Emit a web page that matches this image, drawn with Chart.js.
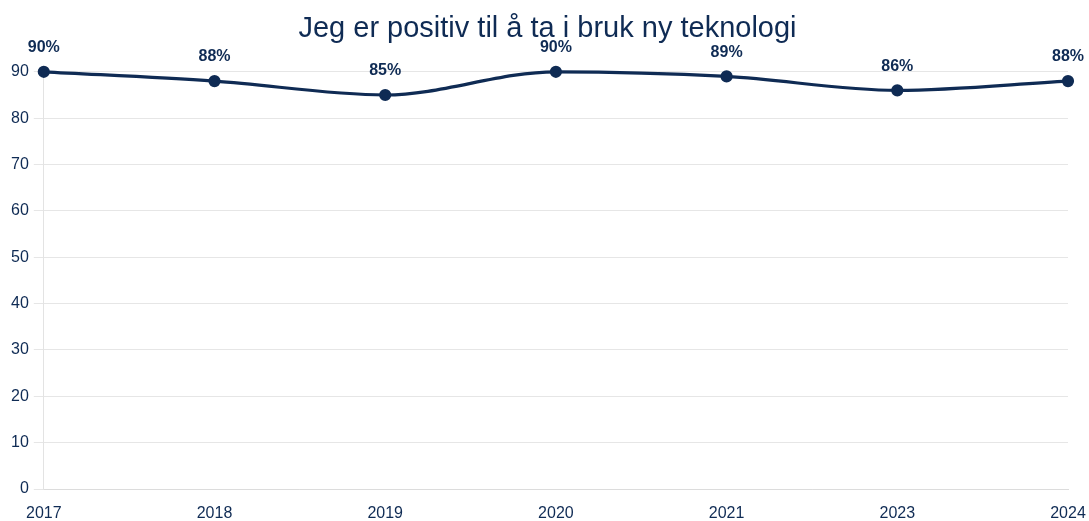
<!DOCTYPE html>
<html>
<head>
<meta charset="utf-8">
<script src="https://cdn.jsdelivr.net/npm/chart.js@4"></script>
<style>
  html, body { margin: 0; padding: 0; background: #fff; }
  #wrap { width: 1089px; height: 521px; }
</style>
</head>
<body>
<div id="wrap"><canvas id="chart"></canvas></div>
<script>
const years = ['2017', '2018', '2019', '2020', '2021', '2023', '2024'];
const positive = [90, 88, 85, 90, 89, 86, 88];
const yTicks = [0, 10, 20, 30, 40, 50, 60, 70, 80, 90];

const navy = '#0f2b54';
const font = '"Liberation Sans", Arial, sans-serif';

// draws the percentage above each point
const pointLabels = {
    id: 'pointLabels',
    afterDatasetsDraw(chart) {
        const ctx = chart.ctx;
        const meta = chart.getDatasetMeta(0);
        ctx.save();
        ctx.font = 'bold 16px ' + font;
        ctx.fillStyle = navy;
        ctx.textAlign = 'center';
        ctx.textBaseline = 'middle';
        meta.data.forEach((pt, i) => {
            ctx.fillText(positive[i] + '%', pt.x, pt.y - 24);
        });
        ctx.restore();
    }
};

new Chart(document.getElementById('chart').getContext('2d'), {
    type: 'line',
    data: {
        labels: years,
        datasets: [{
            data: positive,
            borderColor: navy,
            backgroundColor: navy,
            borderWidth: 3.2,
            pointRadius: 4.5,
            pointHoverRadius: 4.5,
            cubicInterpolationMode: 'monotone',
            clip: false,
            fill: false
        }]
    },
    options: {
        responsive: true,
        maintainAspectRatio: false,
        animation: false,
        layout: { padding: { left: 6, right: 0 } },
        plugins: {
            legend: { display: false },
            tooltip: { enabled: false },
            title: {
                display: true,
                text: 'Jeg er positiv til å ta i bruk ny teknologi',
                color: navy,
                font: { family: font, size: 29, weight: 'normal' },
                padding: { top: 12, bottom: 25 }
            }
        },
        scales: {
            x: {
                offset: false,
                grid: { display: false, drawTicks: false },
                border: { color: '#dcdcdc', width: 1 },
                ticks: {
                    color: navy,
                    padding: 15,
                    maxRotation: 0,
                    font: { family: font, size: 16 }
                },
                afterFit: (s) => { s.height = 32; s.paddingRight = 21; }
            },
            y: {
                min: 0,
                max: 90,
                afterBuildTicks: (axis) => { axis.ticks = yTicks.map(v => ({ value: v })); },
                grid: { color: '#e6e6e6', tickLength: 10 },
                border: { color: '#e3e3e3' },
                ticks: {
                    color: navy,
                    padding: 5,
                    font: { family: font, size: 16 }
                }
            }
        }
    },
    plugins: [pointLabels]
});
</script>
</body>
</html>
